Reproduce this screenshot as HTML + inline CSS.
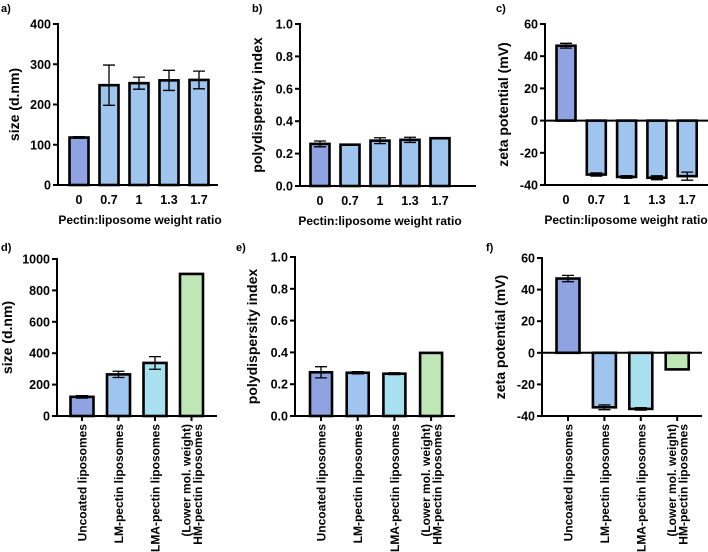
<!DOCTYPE html>
<html><head><meta charset="utf-8"><style>
html,body{margin:0;padding:0;background:#fff;}
svg{display:block;font-family:"Liberation Sans",Arial,sans-serif;}
</style></head><body>
<svg id="fig" width="708" height="552" viewBox="0 0 708 552"></svg>
<script>
const catsTop = ["0","0.7","1","1.3","1.7"];
const catsBottom = [["Uncoated liposomes"],["LM-pectin liposomes"],["LMA-pectin liposomes"],["(Lower mol. weight)","HM-pectin liposomes"]];
const sizeTop = [118,248,253,260,261];
const sizeTopErr = [2,50,15,25,22];
const pdiTop = [0.26,0.255,0.28,0.285,0.295];
const pdiTopErr = [0.018,0,0.018,0.016,0];
const zetaTop = [46.5,-33.5,-35,-35.5,-34.5];
const zetaTopErr = [1.5,1,0.8,1.2,2.5];
const sizeBottom = [122,265,338,905];
const sizeBottomErr = [8,20,40,0];
const pdiBottom = [0.275,0.272,0.266,0.397];
const pdiBottomErr = [0.035,0.007,0.006,0];
const zetaBottom = [47,-34.5,-35.5,-10.5];
const zetaBottomErr = [2,1.5,0.8,0];
const ticksSize400 = [0,100,200,300,400];
const ticksPdi = ["0.0","0.2","0.4","0.6","0.8","1.0"];
const ticksZeta = [-40,-20,0,20,40,60];
const ticksSize1000 = [0,200,400,600,800,1000];
const colorsTop = ["#8fa3e2","#9fc4ee","#9fc4ee","#9fc4ee","#9fc4ee"];
const colorsBottom = ["#8fa3e2","#9fc4ee","#a9e0f0","#bfe6b5"];

const svg = document.getElementById('fig');
const NS = 'http://www.w3.org/2000/svg';
function mk(tag, attrs, parent){const e=document.createElementNS(NS,tag);for(const k in attrs)e.setAttribute(k,attrs[k]);(parent||svg).appendChild(e);return e;}

function panel(o){
  const g = mk('g',{});
  
  
  const ys = v => o.y0 + (v - o.min)/(o.max - o.min)*(o.y1 - o.y0);
  const xs = i => o.c0 + i*o.step;
  const lt = mk('text',{x:o.lx,y:o.ly,'font-size':11,'font-weight':'bold'},g); lt.textContent=o.letter;
  
  
  o.vals.forEach((v,i)=>{
    const yv=ys(v), yz=ys(0), x=xs(i)-o.bw/2;
    const r=mk('rect',{x:x,y:Math.min(yv,yz),width:o.bw,height:Math.abs(yz-yv),fill:o.colors[i],stroke:'#000','stroke-width':2.6},g);
    
    
    const e=o.errs[i];
    if(e>0){
      const sgn = v>=0?1:-1;
      const ye=ys(v+sgn*e), yi=ys(v-sgn*e);
      const eb=mk('path',{d:`M${xs(i)},${yi}V${ye}M${xs(i)-6},${ye}H${xs(i)+6}M${xs(i)-6},${yi}H${xs(i)+6}`,stroke:'#000','stroke-width':1.3,fill:'none'},g);
      
      
    }
  });
  const ya=mk('line',{x1:o.ax,x2:o.ax,y1:ys(o.max)-1,y2:ys(o.min)+1,stroke:'#000','stroke-width':2},g);
  
  
  const xa=mk('line',{x1:o.ax,x2:o.xEnd,y1:ys(o.base),y2:ys(o.base),stroke:'#000','stroke-width':2},g);
  
  
  if(o.min<0){
    const bl=mk('line',{x1:o.ax,x2:o.xEnd,y1:ys(o.min),y2:ys(o.min),stroke:'#000','stroke-width':2},g);
    
    
  }
  o.ticks.forEach(t=>{
    const y=ys(parseFloat(t));
    mk('line',{x1:o.ax-5,x2:o.ax,y1:y,y2:y,stroke:'#000','stroke-width':2},g);
    const tx=mk('text',{x:o.ax-7,y:y+4.5,'font-size':12.5,'font-weight':'bold','text-anchor':'end'},g);
    tx.textContent=t;
    
    
  });
  const yt=mk('text',{transform:`translate(${o.ax-o.ytOff},${(ys(o.max)+ys(o.min))/2}) rotate(-90)`,'font-size':14,'font-weight':'bold','text-anchor':'middle'},g);
  yt.textContent=o.ytitle;
  
  
  o.cats.forEach((c,i)=>{
    if(o.rot){
      mk('line',{x1:xs(i),x2:xs(i),y1:ys(o.min),y2:ys(o.min)+5,stroke:'#000','stroke-width':2},g);
      const n=c.length;
      c.forEach((line,j)=>{
        const x=xs(i)+4.5+(j-(n-1)/2)*11.5;
        const t=mk('text',{transform:`translate(${x},${ys(o.min)+8}) rotate(-90)`,'font-size':12,'font-weight':'bold','text-anchor':'end'},g);
        t.textContent=line;
        
        
      });
    } else {
      const t=mk('text',{x:xs(i),y:ys(o.min)+19,'font-size':12.5,'font-weight':'bold','text-anchor':'middle'},g);
      t.textContent=c;
      
      
    }
  });
  if(o.xtitle){
    const t=mk('text',{x:o.xtx,y:ys(o.min)+39,'font-size':12,'font-weight':'bold','text-anchor':'middle'},g);
    t.textContent=o.xtitle;
    
    
  }
}
const XT="Pectin:liposome weight ratio";
panel({name:'panel-a-size',letter:'a)',lx:1,ly:12,ax:58,xEnd:218,y0:185,y1:24,min:0,max:400,base:0,c0:79,step:30,bw:19,vals:sizeTop,errs:sizeTopErr,colors:colorsTop,ticks:ticksSize400.map(String),ytitle:'size (d.nm)',ytOff:39,cats:catsTop,xtitle:XT,xtx:140});
panel({name:'panel-b-pdi',letter:'b)',lx:252,ly:12,ax:300,xEnd:476,y0:186,y1:24,min:0,max:1,base:0,c0:320,step:30,bw:19,vals:pdiTop,errs:pdiTopErr,colors:colorsTop,ticks:ticksPdi,ytitle:'polydispersity index',ytOff:38,cats:catsTop,xtitle:XT,xtx:380});
panel({name:'panel-c-zeta',letter:'c)',lx:496,ly:12,ax:545,xEnd:708,y0:185,y1:24,min:-40,max:60,base:0,c0:566,step:30.3,bw:19,vals:zetaTop,errs:zetaTopErr,colors:colorsTop,ticks:ticksZeta.map(String),ytitle:'zeta potential (mV)',ytOff:37,cats:catsTop,xtitle:XT,xtx:626});
panel({name:'panel-d-size',letter:'d)',lx:1,ly:251,ax:57,xEnd:217,y0:416,y1:259,min:0,max:1000,base:0,c0:82,step:36.5,bw:23,vals:sizeBottom,errs:sizeBottomErr,colors:colorsBottom,ticks:ticksSize1000.map(String),ytitle:'size (d.nm)',ytOff:45,cats:catsBottom,rot:true});
panel({name:'panel-e-pdi',letter:'e)',lx:236,ly:251,ax:295,xEnd:455,y0:416,y1:257,min:0,max:1,base:0,c0:321,step:36.7,bw:22,vals:pdiBottom,errs:pdiBottomErr,colors:colorsBottom,ticks:ticksPdi,ytitle:'polydispersity index',ytOff:38,cats:catsBottom,rot:true});
panel({name:'panel-f-zeta',letter:'f)',lx:486,ly:251,ax:542,xEnd:702,y0:416,y1:258,min:-40,max:60,base:0,c0:568,step:36.4,bw:23,vals:zetaBottom,errs:zetaBottomErr,colors:colorsBottom,ticks:ticksZeta.map(String),ytitle:'zeta potential (mV)',ytOff:37,cats:catsBottom,rot:true});
</script>
</body></html>
